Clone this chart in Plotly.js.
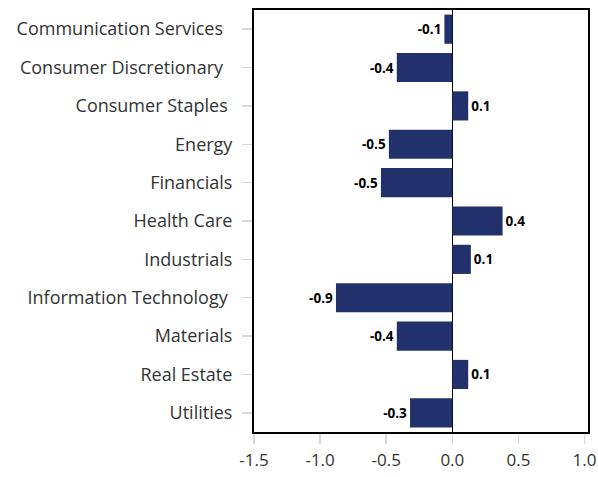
<!DOCTYPE html>
<html>
<head>
<meta charset="utf-8">
<script src="https://cdn.plot.ly/plotly-3.0.1.min.js"></script>
<style>html,body{margin:0;padding:0;background:#fff;}#chart{width:598px;height:477px;}</style>
</head>
<body>
<div id="chart"></div>
<script>
const sectors = ["Communication Services", "Consumer Discretionary", "Consumer Staples", "Energy", "Financials", "Health Care", "Industrials", "Information Technology", "Materials", "Real Estate", "Utilities"];
const sectorLabels = ["Communication Services\u00A0\u00A0", "Consumer Discretionary\u00A0\u00A0", "Consumer Staples\u00A0", "Energy", "Financials", "Health Care", "Industrials", "Information Technology\u00A0", "Materials", "Real Estate", "Utilities"];
const values = [-0.06, -0.42, 0.12, -0.48, -0.54, 0.38, 0.14, -0.88, -0.42, 0.12, -0.32];
const valueLabels = ["-0.1", "-0.4", "0.1", "-0.5", "-0.5", "0.4", "0.1", "-0.9", "-0.4", "0.1", "-0.3"];
const xTicks = [-1.5, -1.0, -0.5, 0.0, 0.5, 1.0];
const xTickLabels = ["-1.5", "-1.0", "-0.5", "0.0", "0.5", "1.0"];

const trace = {
  type: "bar",
  orientation: "h",
  y: sectors,
  x: values,
  text: valueLabels,
  textposition: "outside",
  cliponaxis: false,
  textfont: {family: "Open Sans, sans-serif", size: 13.5, color: "#000", weight: 700},
  marker: {color: "#22306b"},
  hoverinfo: "none"
};

const layout = {
  width: 598, height: 477,
  margin: {l: 254, r: 10, t: 10, b: 45},
  paper_bgcolor: "#fff", plot_bgcolor: "#fff",
  bargap: 0.24,
  showlegend: false,
  font: {family: "Open Sans, sans-serif", color: "#333"},
  xaxis: {
    range: [-1.5, 1.026],
    tickvals: xTicks, ticktext: xTickLabels,
    showgrid: false,
    zeroline: true, zerolinecolor: "#000", zerolinewidth: 1.5,
    showline: true, linecolor: "#000", linewidth: 2, mirror: true,
    ticks: "outside", ticklen: 10, tickcolor: "#d9d9d9", tickwidth: 1.5,
    ticklabelstandoff: 2,
    tickfont: {size: 17, color: "#333"}
  },
  yaxis: {
    type: "category",
    categoryorder: "array", categoryarray: sectors,
    tickvals: sectors, ticktext: sectorLabels,
    autorange: "reversed",
    showgrid: false,
    showline: true, linecolor: "#000", linewidth: 2, mirror: true,
    ticks: "outside", ticklen: 10, tickcolor: "#d9d9d9", tickwidth: 1.5,
    ticklabelstandoff: 6,
    tickfont: {size: 18, color: "#333"}
  }
};

Plotly.newPlot("chart", [trace], layout, {displayModeBar: false, staticPlot: true});
</script>
</body>
</html>
